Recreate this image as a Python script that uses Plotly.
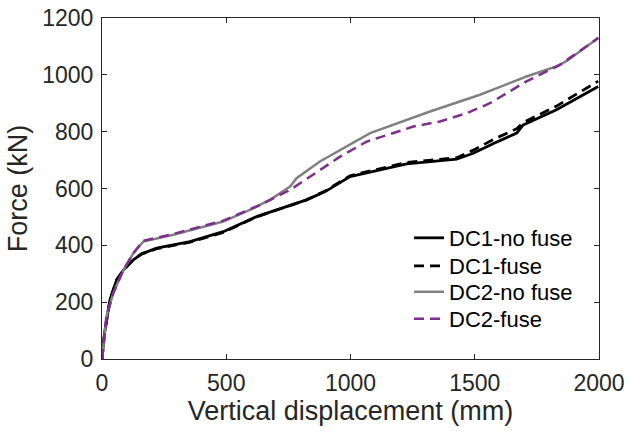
import plotly.graph_objects as go

# DC1-no fuse
x_dc1_nf = [0, 10, 32, 59, 86, 126, 160, 220, 354, 488, 622, 823, 900, 958, 998, 1092, 1226, 1427, 1494, 1580, 1669, 1695, 1829, 1997]
y_dc1_nf = [0, 90, 208, 278, 313, 349, 370, 390, 413, 448, 501, 560, 590, 619, 642, 660, 687, 703, 724, 760, 795, 824, 877, 959]
# DC1-fuse
x_dc1_f = [0, 10, 32, 59, 86, 126, 160, 220, 354, 488, 622, 823, 900, 958, 998, 1092, 1226, 1427, 1494, 1580, 1669, 1695, 1829, 1997]
y_dc1_f = [0, 90, 208, 278, 313, 349, 370, 388, 411, 445, 500, 560, 592, 622, 645, 664, 692, 708, 735, 775, 810, 832, 890, 978]
# DC2-no fuse
x_dc2_nf = [0, 10, 18, 45, 86, 126, 166, 287, 488, 595, 676, 757, 783, 877, 958, 1079, 1320, 1521, 1708, 1829, 1869, 1997]
y_dc2_nf = [0, 80, 149, 231, 313, 372, 413, 437, 484, 525, 560, 607, 636, 695, 736, 795, 871, 930, 994, 1030, 1048, 1130]
# DC2-fuse
x_dc2_f = [0, 10, 18, 45, 86, 126, 166, 287, 488, 636, 757, 958, 1065, 1253, 1360, 1468, 1561, 1708, 1843, 1997]
y_dc2_f = [0, 80, 149, 231, 313, 372, 416, 440, 487, 542, 595, 712, 765, 818, 836, 865, 900, 977, 1035, 1130]

x_ticks = [0, 500, 1000, 1500, 2000]
y_ticks = [0, 200, 400, 600, 800, 1000, 1200]

FONT = "Liberation Sans, Arial"

fig = go.Figure()
fig.add_trace(go.Scatter(x=x_dc1_nf, y=y_dc1_nf, mode="lines", name="DC1-no fuse",
                         line=dict(color="black", width=2.8), legend="legend"))
fig.add_trace(go.Scatter(x=x_dc1_f, y=y_dc1_f, mode="lines", name="DC1-fuse",
                         line=dict(color="black", width=2.8, dash="10px,6px"), legend="legend2"))
fig.add_trace(go.Scatter(x=x_dc2_nf, y=y_dc2_nf, mode="lines", name="DC2-no fuse",
                         line=dict(color="#808080", width=2.5), legend="legend3"))
fig.add_trace(go.Scatter(x=x_dc2_f, y=y_dc2_f, mode="lines", name="DC2-fuse",
                         line=dict(color="#7E2F8E", width=2.5, dash="10px,6px"), legend="legend4"))

axis_common = dict(showgrid=False, zeroline=False, showline=True, linecolor="#262626",
                   linewidth=1, mirror="ticks", ticks="inside", ticklen=5, tickcolor="#262626",
                   automargin=False, ticklabelstandoff=3,
                   tickfont=dict(family=FONT, size=23, color="#262626"))

fig.update_xaxes(range=[0, 2000], tickvals=x_ticks, ticktext=[str(v) for v in x_ticks],
                 title=dict(text="Vertical displacement (mm)", standoff=5,
                            font=dict(family=FONT, size=27, color="#262626")),
                 **axis_common)
fig.update_yaxes(range=[0, 1200], tickvals=y_ticks, ticktext=[str(v) for v in y_ticks],
                 title=dict(text="Force (kN)", standoff=6,
                            font=dict(family=FONT, size=27, color="#262626")),
                 **axis_common)

def leg(yc):
    return dict(x=0.6177, y=yc, xanchor="left", yanchor="middle", bgcolor="rgba(0,0,0,0)",
                font=dict(family=FONT, size=22, color="black"), itemwidth=30)

fig.update_layout(
    width=630, height=437,
    margin=dict(l=102, r=31, t=18, b=78),
    plot_bgcolor="white", paper_bgcolor="white",
    legend=leg(0.3548), legend2=leg(0.2727), legend3=leg(0.1965), legend4=leg(0.1173),
    showlegend=True,
)

fig.write_html("out.html")
